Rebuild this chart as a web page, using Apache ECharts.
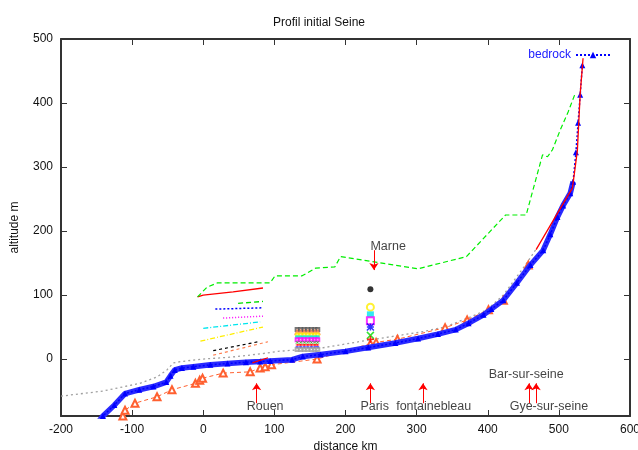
<!DOCTYPE html>
<html>
<head>
<meta charset="utf-8">
<script src="https://cdn.jsdelivr.net/npm/echarts@6/dist/echarts.min.js"></script>
<style>html,body{margin:0;padding:0;background:#fff}#c{width:638px;height:450px}</style>
</head>
<body>
<div id="c"></div>
<script>
// ---------- data ----------
const xTicks = [-200, -100, 0, 100, 200, 300, 400, 500, 600];
const yTicks = [0, 100, 200, 300, 400, 500];

const bedrockX = [-150,-141,-125,-110,-90,-70,-52,-46,-40,-30,-14,10,34,60,80,94,125,140,165,200,232,270,302,330,355,373,394,405,422,441,460,478,488,498,506,516,520,524,527,530,533];
const bedrockY = [-102,-89,-72,-54,-48,-43,-36,-26,-17,-14,-12,-9,-7,-5,-4,-3,-1,4,7,12,18,25,32,39,46,56,69,78,92,119,147,170,195,222,240,259,277,323,369,413,459];

const grayX = [-200,-141,-89,-65,-51,-42,-32,0,40,80,105,165,235,305,340,376,399,422,453,470];
const grayY = [-58,-50,-38,-28,-17,-6,-4,0,3,8,12,17,30,42,50,66,77,100,147,175];

const orangeX = [-113,-110,-96,-65,-44,-11,-5,-1,28,66,80,87,96,160,235,243,273,340,371,401,422,457];
const orangeY = [-89,-80,-69,-59,-48,-38,-33,-30,-22,-20,-14,-12,-9,0,24,26,31,49,61,77,92,147];

const redTopX = [468,495,519,523,526,530,534];
const redTopY = [171,222,267,300,326,415,470];
const redLeftX = [-8,0,42,84];
const redLeftY = [97,100,105,111];
const redRouenX = [69,91];
const redRouenY = [-6,2];

const greenX = [-8,5,20,94,101,139,158,185,193,302,370,425,454,477,484,491,502,513,523];
const greenY = [97,112,119,119,130,130,142,144,160,141,160,225,225,319,316,327,358,386,415];

const shortGreenX = [49,84];   const shortGreenY = [87,90];
const shortBlueX = [17,84];    const shortBlueY = [78,80];
const shortMagX = [28,84];     const shortMagY = [64,67];
const shortCyanX = [0,80];     const shortCyanY = [48,58];
const shortYellowX = [-4,84];  const shortYellowY = [28,50];
const shortBlackX = [14,77];   const shortBlackY = [13,27];
const shortOrangeX = [14,91];  const shortOrangeY = [6,27];

const clusterX = [132,137,142,147,152,157,161];
const clusterRowY = [46,42,38,34,30,26,22,18,15];

const marneX = 235;
const marneY = [109,81,69,60,50,37,31];

const arrowX = [75,235,309,458,468];
const arrowY0 = [-69,-69,-69,-69,-69];
const arrowY1 = [-38,-38,-38,-38,-38];
const marneArrowX = 240, marneArrowY0 = 170, marneArrowY1 = 139;

const labelNames = ['Rouen','Paris','fontainebleau','Bar-sur-seine','Gye-sur-seine','Marne'];
const labelX = [87,241,324,454,486,260];
const labelY = [-75,-75,-75,-25,-75,175];

// ---------- helpers ----------
const zip = (xs, ys) => xs.map((x, i) => [x, ys[i]]);
const FONT = 'Liberation Sans, Arial, sans-serif';

function lineSeries(name, xs, ys, color, type, width, extra) {
  return Object.assign({
    name, type: 'line', data: zip(xs, ys), showSymbol: false, symbol: 'none',
    lineStyle: {color, type, width}, itemStyle: {color}, z: 3, silent: true, animation: false
  }, extra || {});
}

const series = [];
series.push(lineSeries('gray', grayX, grayY, '#a0a0a0', [2,3], 1.3));
series.push(lineSeries('orange', orangeX, orangeY, '#ff6030', [4,3], 1, {
  symbol: 'emptyTriangle', showSymbol: true, symbolSize: 7,
  itemStyle: {color: '#ff6030', borderColor: '#ff6030', borderWidth: 1.2}
}));
const bandX = bedrockX.filter(x => x <= 520);
series.push({
  name: 'bedrock-band', type: 'line', data: zip(bandX, bedrockY.slice(0, bandX.length)),
  symbol: 'triangle', symbolSize: 4, showSymbol: true,
  itemStyle: {color: '#2a2aff'}, lineStyle: {color: '#2a2aff', width: 5.5}, z: 4, silent: true, animation: false
});
series.push({
  name: 'bedrock', type: 'line', data: zip(bedrockX, bedrockY),
  symbol: 'triangle', symbolSize: 6, showSymbol: true,
  itemStyle: {color: '#0000ff'}, lineStyle: {color: '#0000ff', width: 1.5, type: [2,2]}, z: 5, silent: true, animation: false
});
series.push(lineSeries('redTop', redTopX, redTopY, '#ff0000', 'solid', 1.3, {z: 6}));
series.push(lineSeries('redLeft', redLeftX, redLeftY, '#ff0000', 'solid', 1.3));
series.push(lineSeries('redRouen', redRouenX, redRouenY, '#ff0000', 'solid', 1.3, {z: 6}));
series.push(lineSeries('green', greenX, greenY, '#00ee00', [5,3], 1.2));
series.push(lineSeries('sg', shortGreenX, shortGreenY, '#00dd00', [5,3], 1.3));
series.push(lineSeries('sb', shortBlueX, shortBlueY, '#0000ff', [2,2], 1.5));
series.push(lineSeries('sm', shortMagX, shortMagY, '#ff00ff', [1,2], 1.5));
series.push(lineSeries('sc', shortCyanX, shortCyanY, '#00e5ee', [5,2,1,2], 1.3));
series.push(lineSeries('sy', shortYellowX, shortYellowY, '#ffee00', [5,2,1,2], 1.3));
series.push(lineSeries('sk', shortBlackX, shortBlackY, '#000000', [3,3], 1.2));
series.push(lineSeries('so', shortOrangeX, shortOrangeY, '#ff7f50', [3,3], 1.2));

// cluster of coloured markers
const clusterColors = ['#555555','#ff7f50','#ffee00','#00e5ee','#ff00ff','#00dd00','#ff0000','#0000ff','#a0a0a0'];
const clusterSymbols = ['emptyRect','emptyTriangle','emptyCircle','rect','emptyRect','path://M0,0L10,10M10,0L0,10','path://M5,0L5,10M0,5L10,5','path://M0,0L10,10M10,0L0,10M5,0L5,10M0,5L10,5','emptyRect'];
clusterRowY.forEach((y, r) => {
  const isPath = clusterSymbols[r].startsWith('path');
  series.push({
    name: 'cl' + r, type: 'line', data: clusterX.map(x => [x, y]),
    symbol: clusterSymbols[r], symbolSize: 3, showSymbol: true,
    itemStyle: {color: isPath ? 'none' : clusterColors[r], borderColor: clusterColors[r], borderWidth: 0.8, opacity: 0.8},
    lineStyle: {color: clusterColors[r], width: r === 6 ? 1.2 : 0.6, type: r === 6 ? 'solid' : [1,3], opacity: 0.8},
    z: 4, silent: true, animation: false
  });
});

// Marne confluence markers
const marneColors = ['#000000','#ffee00','#00e5ee','#ff00ff','#0000ff','#00dd00','#ff0000'];
const marneSymbols = ['circle','emptyCircle','rect','emptyRect','path://M0,0L10,10M10,0L0,10M5,0L5,10M0,5L10,5','path://M0,0L10,10M10,0L0,10','path://M5,0L5,10M0,5L10,5'];
series.push({
  name: 'marne', type: 'scatter', z: 7, silent: true, animation: false,
  data: marneY.map((y, i) => {
    const s = marneSymbols[i];
    const isPath = s.startsWith('path');
    return {
      value: [marneX, y], symbol: s, symbolSize: s === 'circle' ? 6 : 7,
      itemStyle: {color: isPath ? 'none' : marneColors[i], borderColor: marneColors[i],
        borderWidth: (s === 'circle' || s === 'rect') ? 0 : 1.5}
    };
  })
});

// arrows
const arrowData = arrowX.map((x, i) => ({coords: [[x, arrowY0[i]], [x, arrowY1[i]]]}));
arrowData.push({coords: [[marneArrowX, marneArrowY0], [marneArrowX, marneArrowY1]]});
series.push({
  name: 'arrows', type: 'lines', coordinateSystem: 'cartesian2d', silent: true, animation: false, z: 8,
  symbol: ['none', 'arrow'], symbolSize: 7,
  lineStyle: {color: '#ff0000', width: 1, opacity: 1, curveness: 0},
  itemStyle: {color: '#ff0000'},
  data: arrowData
});
// text labels
series.push({
  name: 'labels', type: 'scatter', symbolSize: 0, silent: true, animation: false, z: 9,
  data: labelNames.map((n, i) => ({name: n, value: [labelX[i], labelY[i]]})),
  label: {show: true, position: 'inside', formatter: p => p.name, color: '#111', fontSize: 12.5, fontFamily: FONT}
});

const axisCommon = {
  axisLine: {show: true, onZero: false, lineStyle: {color: '#333', width: 2}},
  axisTick: {show: true, inside: true, length: 6, lineStyle: {color: '#333', width: 1}},
  splitLine: {show: false}
};

const option = {
  backgroundColor: '#fff',
  animation: false,
  title: {text: 'Profil initial Seine', left: 'center', top: 12,
    textStyle: {fontSize: 12, fontWeight: 'normal', color: '#111', fontFamily: FONT}},
  legend: {
    data: ['bedrock'], right: 22, top: 44, align: 'right', itemWidth: 34, itemHeight: 8, itemGap: 8,
    textStyle: {color: '#2020ff', fontSize: 12, fontFamily: FONT}
  },
  grid: {left: 61, right: 8, top: 39, bottom: 34, containLabel: false, outerBoundsMode: 'none'},
  xAxis: [
    Object.assign({type: 'value', min: -200, max: 600, interval: 100, position: 'bottom',
      name: 'distance km', nameLocation: 'middle', nameGap: 24,
      nameTextStyle: {fontSize: 12, color: '#111', fontFamily: FONT},
      axisLabel: {color: '#111', fontSize: 12, margin: 8, fontFamily: FONT}}, axisCommon),
    Object.assign({type: 'value', min: -200, max: 600, interval: 100, position: 'top',
      axisLabel: {show: false}}, axisCommon)
  ],
  yAxis: [
    Object.assign({type: 'value', min: -89, max: 500, position: 'left',
      name: 'altitude m', nameLocation: 'middle', nameGap: 40, nameRotate: 90,
      nameTextStyle: {fontSize: 12, color: '#111', fontFamily: FONT},
      axisLabel: {color: '#111', fontSize: 12, margin: 8, fontFamily: FONT, customValues: yTicks}}, axisCommon,
      {axisTick: Object.assign({}, axisCommon.axisTick, {customValues: yTicks})}),
    Object.assign({type: 'value', min: -89, max: 500, position: 'right', axisLabel: {show: false}}, axisCommon,
      {axisTick: Object.assign({}, axisCommon.axisTick, {customValues: yTicks})})
  ],
  series
};

const chart = echarts.init(document.getElementById('c'), null, {renderer: 'canvas'});
chart.setOption(option);
</script>
</body>
</html>
